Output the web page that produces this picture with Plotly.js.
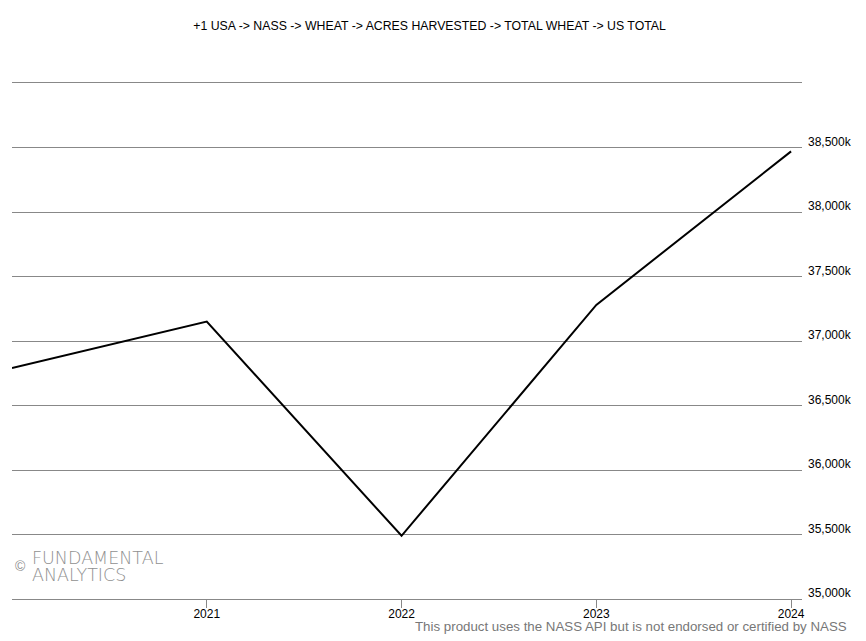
<!DOCTYPE html>
<html><head><meta charset="utf-8">
<script src="https://cdn.plot.ly/plotly-3.0.1.min.js"></script>
<style>html,body{margin:0;padding:0;background:#fff;}#chart{width:866px;height:641px;}</style>
</head><body><div id="chart"></div>
<script>
const years = [2020, 2021, 2022, 2023, 2024];
const acresHarvested = [36790, 37150, 35490, 37280, 38470];
const yTickVals = [35000, 35500, 36000, 36500, 37000, 37500, 38000, 38500];
const yTickText = ["35,000k", "35,500k", "36,000k", "36,500k", "37,000k", "37,500k", "38,000k", "38,500k"];
const xTickVals = [2021, 2022, 2023, 2024];
const titleText = "+1 USA -> NASS -> WHEAT -> ACRES HARVESTED -> TOTAL WHEAT -> US TOTAL";

const trace = {x: years, y: acresHarvested, type: 'scatter', mode: 'lines',
  line: {color: '#000', width: 2}, hoverinfo: 'skip'};

const layout = {
  width: 866, height: 641,
  margin: {l: 12, r: 64, t: 83, b: 42},
  paper_bgcolor: '#fff', plot_bgcolor: '#fff',
  showlegend: false,
  font: {family: 'Arial, Liberation Sans, sans-serif', color: '#000', size: 12},
  title: {text: titleText, x: 0.496, xref: 'container', xanchor: 'center', y: 0.96, yref: 'container', yanchor: 'middle',
    font: {size: 12.3, color: '#000', family: 'Arial, Liberation Sans, sans-serif'}},
  xaxis: {range: [2020, 2024.056], tickvals: xTickVals, ticktext: xTickVals.map(String),
    showgrid: false, zeroline: false, showline: true, mirror: true, linecolor: '#888', linewidth: 1,
    ticks: 'outside', ticklen: 8, tickcolor: '#888', ticklabelstandoff: -4, tickfont: {size: 12, color: '#000'}},
  yaxis: {range: [35000, 39000], side: 'right', tickvals: yTickVals, ticktext: yTickText,
    showgrid: true, gridcolor: '#888', gridwidth: 1, zeroline: false, showline: false,
    ticks: '', ticklabelstandoff: 5, ticklabelshift: -6, tickfont: {size: 12, color: '#000'}},
  annotations: [
    {text: 'FUNDAMENTAL', xref: 'paper', yref: 'paper', x: 0, y: 0.0795, xanchor: 'left', yanchor: 'middle',
      showarrow: false, xshift: 18, font: {size: 17.5, color: '#909090', family: 'DejaVu Sans, sans-serif', weight: 200}},
    {text: 'ANALYTICS', xref: 'paper', yref: 'paper', x: 0, y: 0.046, xanchor: 'left', yanchor: 'middle',
      showarrow: false, xshift: 18, font: {size: 17.5, color: '#909090', family: 'DejaVu Sans, sans-serif', weight: 200}},
    {text: '©', xref: 'paper', yref: 'paper', x: 0, y: 0.064, xanchor: 'left', yanchor: 'middle',
      showarrow: false, xshift: 1, font: {size: 14, color: '#909090'}},
    {text: 'This product uses the NASS API but is not endorsed or certified by NASS', xref: 'paper', yref: 'paper',
      x: 1, y: 0, xanchor: 'right', yanchor: 'top', xshift: 47, yshift: -18, showarrow: false,
      font: {size: 13.3, color: '#777', family: 'Arial, Liberation Sans, sans-serif'}}
  ]
};
Plotly.newPlot('chart', [trace], layout, {displayModeBar: false, staticPlot: true});
</script></body></html>
